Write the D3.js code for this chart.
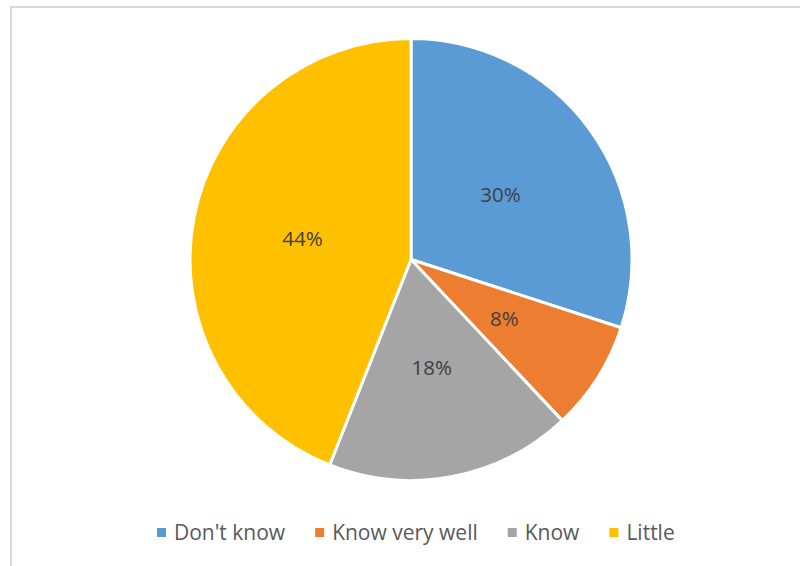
<!DOCTYPE html>
<html>
<head>
<meta charset="utf-8">
<script src="https://cdn.jsdelivr.net/npm/d3@7/dist/d3.min.js"></script>
<style>
  html, body { margin: 0; padding: 0; background: #fff; }
  svg { display: block; font-family: "Open Sans", "Noto Sans", sans-serif; }
</style>
</head>
<body>
<div id="chart"></div>
<script>
// data
const categories = ["Don't know", "Know very well", "Know", "Little"];
const shares = [30, 8, 18, 44];
const colors = ["#5B9BD5", "#ED7D31", "#A5A5A5", "#FFC000"];

const W = 800, H = 566;
const cx = 411, cy = 259.5, R = 221;

const svg = d3.select("#chart").append("svg")
  .attr("width", W).attr("height", H);

// chart frame (right/bottom edges fall outside the picture)
svg.append("rect")
  .attr("x", 11).attr("y", 7)
  .attr("width", W + 20).attr("height", H + 20)
  .attr("fill", "none")
  .attr("stroke", "#d9d9d9")
  .attr("stroke-width", 2);

const color = d3.scaleOrdinal().domain(categories).range(colors);

const pie = d3.pie().sort(null).value(d => d.v);
const rows = categories.map((c, i) => ({ c, v: shares[i] }));
const arcs = pie(rows);

const arc = d3.arc().innerRadius(0).outerRadius(R);

const g = svg.append("g").attr("transform", `translate(${cx},${cy})`);

g.selectAll("path")
  .data(arcs)
  .enter().append("path")
    .attr("d", arc)
    .attr("fill", d => color(d.data.c))
    .attr("stroke", "#fff")
    .attr("stroke-width", 3)
    .attr("stroke-linejoin", "round");

// % labels at half radius
const total = d3.sum(shares);
g.selectAll("text.lbl")
  .data(arcs)
  .enter().append("text")
    .attr("class", "lbl")
    .attr("transform", d => { const [x, y] = arc.centroid(d); return `translate(${x},${y})`; })
    .attr("text-anchor", "middle")
    .attr("dy", "0.35em")
    .attr("font-size", 20.5)
    .attr("fill", "#404040")
    .text(d => Math.round(d.data.v / total * 100) + "%");

// legend
const leg = svg.append("g");
const items = leg.selectAll("g.item")
  .data(categories)
  .enter().append("g").attr("class", "item");

items.append("rect")
  .attr("width", 9).attr("height", 9)
  .attr("y", -12)
  .attr("fill", d => color(d));

items.append("text")
  .attr("x", 17)
  .attr("font-size", 21)
  .attr("fill", "#595959")
  .text(d => d);

const gap = 30;
let xpos = 0;
items.each(function () {
  const it = d3.select(this);
  it.attr("transform", `translate(${xpos},0)`);
  xpos += 17 + it.select("text").node().getComputedTextLength() + gap;
});
const legW = xpos - gap;
leg.attr("transform", `translate(${Math.round(416 - legW / 2)},540)`);
</script>
</body>
</html>
